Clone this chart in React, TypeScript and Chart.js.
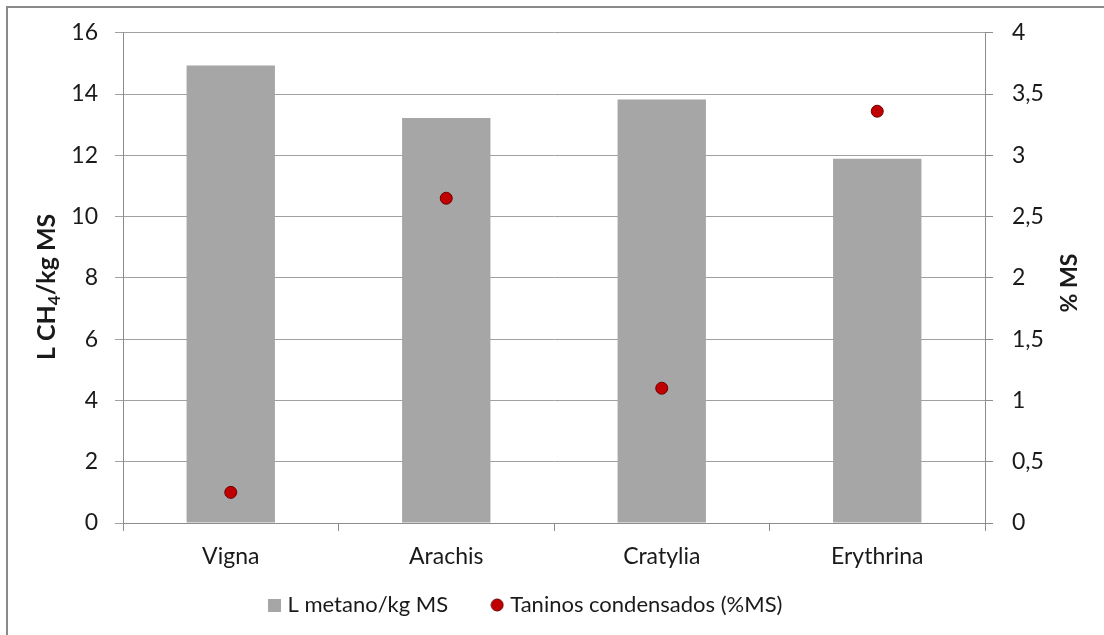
import React, { useEffect, useRef } from 'react';
import { Chart, registerables } from 'chart.js';

Chart.register(...registerables);

const categories = ['Vigna', 'Arachis', 'Cratylia', 'Erythrina'];
const metano = [14.93, 13.22, 13.82, 11.89];
const taninos = [0.25, 2.65, 1.1, 3.36];
const leftAxis = { min: 0, max: 16, step: 2 };
const rightAxis = { min: 0, max: 4, step: 0.5 };
const labelMetano = 'L metano/kg MS';
const labelTaninos = 'Taninos condensados (%MS)';
const leftTitleParts = ['L CH', '4', '/kg MS'];
const rightTitle = '% MS';

const FONT = "Lato, 'Open Sans', 'DejaVu Sans', sans-serif";
const FS = 23;
const LFS = 22;
const TEXT = '#1a1a1a';
const BAR = '#a6a6a6';
const DOT = '#c00000';
const DOT_BORDER = '#6e0000';
const LEG_PAD = 47;

function makeSquare(): HTMLCanvasElement {
  const c = document.createElement('canvas');
  c.width = 13; c.height = 13;
  const g = c.getContext('2d')!;
  g.fillStyle = BAR;
  g.fillRect(0, 0, 13, 13);
  return c;
}
function makeCircle(): HTMLCanvasElement {
  const c = document.createElement('canvas');
  c.width = 14; c.height = 14;
  const g = c.getContext('2d')!;
  g.beginPath();
  g.arc(7, 7, 6, 0, Math.PI * 2);
  g.fillStyle = DOT;
  g.fill();
  g.lineWidth = 1;
  g.strokeStyle = DOT_BORDER;
  g.stroke();
  return c;
}

const placementPlugin = {
  id: 'placement',
  afterLayout(chart: any) {
    const lg = chart.legend;
    if (lg) {
      lg.top = 605 - LEG_PAD - LFS / 2;
      lg.bottom = 635;
      lg.height = lg.bottom - lg.top;
      lg.left = 272.5 - LEG_PAD;
      lg.right = 1100;
      lg.width = lg.right - lg.left;
    }
  },
  afterDraw(chart: any) {
    const ctx = chart.ctx;
    const midY = (chart.chartArea.top + chart.chartArea.bottom) / 2;
    // right axis title
    ctx.save();
    ctx.font = `bold ${FS}px ${FONT}`;
    ctx.fillStyle = TEXT;
    ctx.textAlign = 'center';
    ctx.textBaseline = 'alphabetic';
    ctx.translate(1077, 283);
    ctx.rotate(-Math.PI / 2);
    ctx.fillText(rightTitle, 0, 0);
    ctx.restore();
    // left axis title with subscript
    ctx.save();
    const main = `bold 25px ${FONT}`;
    const sub = `bold 17px ${FONT}`;
    ctx.fillStyle = TEXT;
    ctx.textBaseline = 'alphabetic';
    ctx.textAlign = 'left';
    ctx.font = main;
    const w0 = ctx.measureText(leftTitleParts[0]).width;
    const w2 = ctx.measureText(leftTitleParts[2]).width;
    ctx.font = sub;
    const w1 = ctx.measureText(leftTitleParts[1]).width;
    const total = w0 + w1 + w2;
    ctx.translate(55, midY + 9);
    ctx.rotate(-Math.PI / 2);
    let x = -total / 2;
    ctx.font = main;
    ctx.fillText(leftTitleParts[0], x, 0);
    x += w0;
    ctx.font = sub;
    ctx.fillText(leftTitleParts[1], x, 5);
    x += w1;
    ctx.font = main;
    ctx.fillText(leftTitleParts[2], x, 0);
    ctx.restore();
  },
};

export default function App() {
  const ref = useRef<HTMLCanvasElement | null>(null);
  useEffect(() => {
    document.body.style.margin = '0';
    const square = makeSquare();
    const circle = makeCircle();
    const chart = new Chart(ref.current!, {
      type: 'bar',
      data: {
        labels: categories,
        datasets: [
          {
            type: 'line',
            label: labelTaninos,
            data: taninos,
            yAxisID: 'y1',
            showLine: false,
            pointRadius: 6,
            pointHoverRadius: 6,
            pointBackgroundColor: DOT,
            pointBorderColor: DOT_BORDER,
            pointBorderWidth: 1,
            backgroundColor: DOT,
            borderColor: DOT_BORDER,
            order: 0,
          } as any,
          {
            type: 'bar',
            label: labelMetano,
            data: metano,
            yAxisID: 'y',
            backgroundColor: BAR,
            barPercentage: 0.41,
            categoryPercentage: 1,
            order: 1,
          },
        ],
      },
      options: {
        animation: false,
        responsive: false,
        maintainAspectRatio: false,
        layout: { padding: { left: 20, right: 20, top: 32, bottom: 10 } },
        plugins: {
          tooltip: { enabled: false },
          legend: {
            position: 'bottom',
            align: 'start',
            maxHeight: 32,
            labels: {
              usePointStyle: true,
              pointStyleWidth: 4,
              boxWidth: 13,
              boxHeight: 13,
              padding: LEG_PAD,
              color: TEXT,
              font: { family: FONT, size: LFS },
              generateLabels(chart: any) {
                const items = Chart.defaults.plugins.legend.labels.generateLabels(chart);
                const out = items.map((it: any) => ({
                  ...it,
                  pointStyle: it.datasetIndex === 1 ? square : circle,
                  lineWidth: 0,
                }));
                return out.sort((a: any, b: any) => b.datasetIndex - a.datasetIndex);
              },
            },
          },
        },
        scales: {
          x: {
            offset: true,
            grid: {
              display: true,
              offset: true,
              drawOnChartArea: false,
              drawTicks: true,
              tickLength: 8,
              color: '#8c8c8c',
            },
            border: { color: '#8c8c8c' },
            ticks: { color: TEXT, font: { family: FONT, size: FS }, padding: 12 },
            afterFit: (s: any) => { s.height = 70; },
          },
          y: {
            position: 'left',
            min: leftAxis.min,
            max: leftAxis.max,
            ticks: { stepSize: leftAxis.step, color: TEXT, font: { family: FONT, size: FS }, padding: 17 },
            grid: { color: '#a0a0a0', tickLength: 8, drawTicks: true },
            border: { color: '#8c8c8c' },
            afterFit: (s: any) => { s.width = 103; },
          },
          y1: {
            position: 'right',
            min: rightAxis.min,
            max: rightAxis.max,
            ticks: {
              stepSize: rightAxis.step,
              color: TEXT,
              font: { family: FONT, size: FS },
              padding: 19,
              callback: (v: any) => String(v).replace('.', ','),
            },
            grid: { drawOnChartArea: false, tickLength: 8, drawTicks: true, color: '#8c8c8c' },
            border: { color: '#8c8c8c' },
            afterFit: (s: any) => { s.width = 99; },
          },
        },
      },
      plugins: [placementPlugin],
    });
    return () => chart.destroy();
  }, []);
  return (
    <div style={{ position: 'relative', width: 1104, height: 635, overflow: 'hidden', background: '#fff' }}>
      <canvas ref={ref} width={1104} height={635} style={{ position: 'absolute', left: 0, top: 0 }} />
      <div
        style={{
          position: 'absolute',
          left: 6,
          top: 6,
          width: 1104,
          height: 640,
          borderLeft: '2px solid #8a8a8a',
          borderTop: '2px solid #8a8a8a',
          pointerEvents: 'none',
        }}
      />
    </div>
  );
}
